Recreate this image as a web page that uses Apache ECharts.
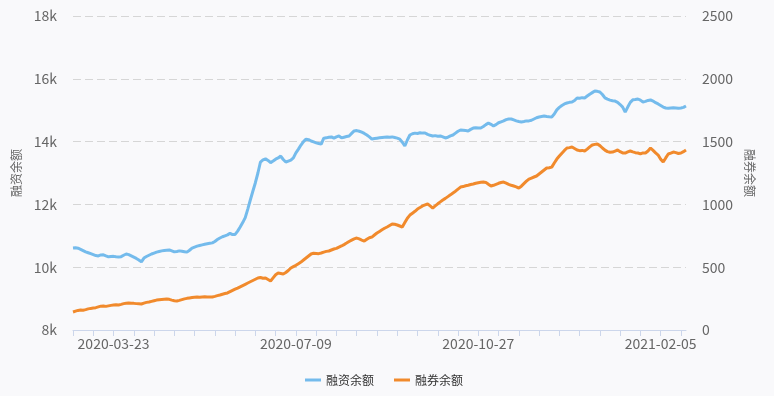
<!DOCTYPE html>
<html>
<head>
<meta charset="utf-8">
<script src="https://cdn.jsdelivr.net/npm/echarts@6/dist/echarts.min.js"></script>
<style>
html,body{margin:0;padding:0;background:#f9f9fb;}
#main{width:774px;height:396px;}
</style>
</head>
<body>
<div id="main"></div>
<script>
// Trading-day calendar (category axis)
const startDate = '2020-02-28';
const categoryCount = 243;
const holidays = ['2020-04-06','2020-05-01','2020-05-04','2020-05-05','2020-06-25','2020-06-26',
  '2020-10-01','2020-10-02','2020-10-05','2020-10-06','2020-10-07','2020-10-08',
  '2021-01-01','2021-02-11','2021-02-12','2021-02-15','2021-02-16','2021-02-17'];

const seriesNames = ['融资余额', '融券余额'];
const yLeftTicks = [8000, 10000, 12000, 14000, 16000, 18000];
const yRightTicks = [0, 500, 1000, 1500, 2000, 2500];

const financing = [
10612,10620,10605,10570,10530,10490,10460,10430,10400,10370,
10360,10390,10395,10360,10330,10340,10345,10330,10325,10335,
10380,10420,10400,10360,10320,10280,10230,10170,10290,10340,
10380,10420,10450,10480,10500,10520,10530,10540,10550,10520,
10490,10500,10520,10510,10495,10480,10540,10610,10640,10670,
10690,10710,10730,10745,10760,10775,10820,10880,10930,10970,
11000,11030,11080,11040,11045,11150,11280,11420,11580,11850,
12140,12420,12690,13000,13350,13420,13450,13400,13330,13380,
13440,13480,13540,13430,13350,13380,13410,13480,13640,13760,
13890,14000,14080,14060,14020,13990,13960,13940,13920,14110,
14120,14140,14150,14110,14150,14180,14120,14140,14160,14180,
14260,14340,14350,14330,14300,14260,14210,14150,14080,14100,
14110,14120,14130,14140,14150,14140,14150,14130,14110,14080,
13980,13860,14050,14210,14250,14270,14260,14280,14270,14275,
14230,14200,14180,14190,14170,14180,14150,14115,14140,14180,
14210,14270,14330,14370,14360,14350,14340,14390,14430,14440,
14430,14435,14480,14540,14590,14550,14500,14540,14600,14630,
14660,14700,14720,14720,14690,14660,14640,14625,14640,14660,
14660,14680,14720,14760,14785,14800,14815,14800,14790,14785,
14880,15010,15090,15150,15200,15230,15250,15260,15310,15390,
15380,15400,15390,15450,15510,15560,15610,15600,15580,15500,
15390,15350,15320,15300,15290,15250,15180,15100,14940,15100,
15250,15330,15340,15357,15320,15262,15280,15310,15326,15290,
15240,15200,15150,15100,15070,15060,15071,15080,15071,15060,
15071,15090,15134
];

const lending = [
143,150,156,160,158,162,168,172,175,178,
184,190,191,188,192,196,199,201,199,204,
210,213,215,213,212,210,209,207,214,220,
223,228,233,238,241,243,245,247,244,238,
233,231,236,242,248,252,255,258,260,262,
261,263,264,262,263,263,268,274,279,285,
290,295,305,315,325,334,344,354,364,374,
384,394,404,414,418,412,414,402,390,415,
440,454,450,446,458,474,494,505,515,528,
541,557,573,589,605,612,610,608,613,620,
626,629,637,645,650,660,669,680,692,705,
716,726,732,725,716,708,722,735,740,756,
772,785,798,810,820,832,844,842,836,828,
820,855,890,915,930,945,963,975,988,996,
1003,988,971,988,1005,1020,1035,1048,1062,1076,
1091,1105,1122,1138,1142,1148,1152,1158,1162,1168,
1172,1176,1178,1175,1160,1146,1152,1160,1168,1174,
1178,1170,1160,1152,1146,1140,1130,1145,1165,1185,
1202,1210,1218,1226,1242,1258,1274,1290,1292,1297,
1330,1361,1385,1408,1430,1449,1452,1457,1445,1433,
1428,1430,1425,1440,1458,1473,1478,1481,1468,1449,
1432,1420,1415,1417,1425,1433,1420,1410,1409,1418,
1425,1418,1412,1409,1402,1410,1409,1425,1449,1430,
1410,1393,1360,1337,1370,1401,1408,1417,1412,1405,
1409,1420,1433
];

function pad(n){return n<10?'0'+n:''+n;}
function buildCategories(){
  const out = [];
  const d = new Date(startDate + 'T00:00:00Z');
  while (out.length < categoryCount) {
    const s = d.getUTCFullYear() + '-' + pad(d.getUTCMonth()+1) + '-' + pad(d.getUTCDate());
    const wd = d.getUTCDay();
    if (wd !== 0 && wd !== 6 && holidays.indexOf(s) < 0) out.push(s);
    d.setUTCDate(d.getUTCDate()+1);
  }
  return out;
}
const categories = buildCategories();

const chart = echarts.init(document.getElementById('main'), null, {renderer:'canvas'});
const labelColor = '#666';
const fontFamily = '"Noto Sans CJK SC", "Microsoft YaHei", sans-serif';
chart.setOption({
  backgroundColor: '#f9f9fb',
  animation: false,
  textStyle: {fontFamily: fontFamily},
  grid: {left: 73, right: 88, top: 16, bottom: 66},
  legend: {
    data: seriesNames,
    left: 300, top: 369,
    itemWidth: 16, itemHeight: 3, itemGap: 20,
    icon: 'rect',
    textStyle: {color: '#333', fontSize: 12, fontFamily: fontFamily}
  },
  xAxis: {
    type: 'category',
    data: categories,
    boundaryGap: false,
    axisLine: {lineStyle: {color: '#ccd6eb'}},
    axisTick: {show: true, length: 6, interval: function(i){return i % 8 === 0;}, lineStyle: {color: '#ccd6eb'}},
    axisLabel: {color: labelColor, fontSize: 14, margin: 7, interval: function(i){return i % 72 === 16;}},
    splitLine: {show: false}
  },
  yAxis: [{
    type: 'value', min: yLeftTicks[0], max: yLeftTicks[yLeftTicks.length-1], interval: 2000,
    name: seriesNames[0], nameLocation: 'middle', nameGap: 47, nameRotate: 90,
    nameTextStyle: {color: labelColor, fontSize: 12},
    axisLine: {show: false}, axisTick: {show: false},
    axisLabel: {color: labelColor, fontSize: 14, margin: 16, formatter: function(v){return (v/1000) + 'k';}},
    splitLine: {lineStyle: {color: '#d6d6d6', type: [8, 4]}}
  }, {
    type: 'value', min: yRightTicks[0], max: yRightTicks[yRightTicks.length-1], interval: 500,
    name: seriesNames[1], nameLocation: 'middle', nameGap: 53, nameRotate: -90,
    nameTextStyle: {color: labelColor, fontSize: 12},
    axisLine: {show: false}, axisTick: {show: false},
    axisLabel: {color: labelColor, fontSize: 14, margin: 16, formatter: function(v){return String(v);}},
    splitLine: {show: false}
  }],
  series: [{
    name: seriesNames[0], type: 'line', yAxisIndex: 0, data: financing,
    showSymbol: false, symbol: 'none',
    lineStyle: {width: 3, color: '#74bbec'}, itemStyle: {color: '#74bbec'}
  }, {
    name: seriesNames[1], type: 'line', yAxisIndex: 1, data: lending,
    showSymbol: false, symbol: 'none',
    lineStyle: {width: 3, color: '#f18a2c'}, itemStyle: {color: '#f18a2c'}
  }]
});
</script>
</body>
</html>
